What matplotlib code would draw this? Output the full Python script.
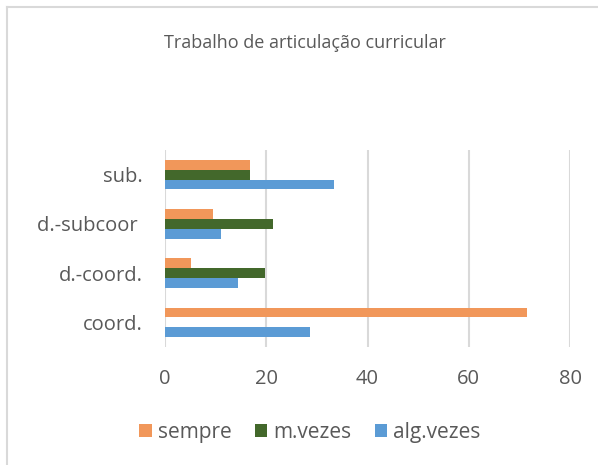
import matplotlib.pyplot as plt
from matplotlib.lines import Line2D
import numpy as np

plt.rcParams['font.family'] = ['Open Sans', 'DejaVu Sans']

categorias = ["coord.", "d.-coord.", "d.-subcoor ", "sub."]
sempre = [71.5, 5.1, 9.4, 16.7]
m_vezes = [0, 19.7, 21.4, 16.7]
alg_vezes = [28.6, 14.5, 11.0, 33.3]
xticks = [0, 20, 40, 60, 80]

cor_sempre = "#F1975A"
cor_m = "#43682B"
cor_alg = "#5B9BD5"
cinza_txt = "#595959"
cinza_grid = "#D9D9D9"


def gerar_grafico(fig):
    ax = fig.add_axes([165 / 598, 1 - 347 / 465, 405 / 598, 197 / 465])
    y = np.arange(len(categorias))
    h = 0.2
    ax.barh(y + h, sempre, height=h, color=cor_sempre, label="sempre", zorder=3)
    ax.barh(y, m_vezes, height=h, color=cor_m, label="m.vezes", zorder=3)
    ax.barh(y - h, alg_vezes, height=h, color=cor_alg, label="alg.vezes", zorder=3)

    ax.set_xlim(0, 80)
    ax.set_ylim(-0.5, len(categorias) - 0.5)
    ax.set_xticks(xticks)
    ax.set_yticks(y)
    ax.set_yticklabels(categorias)
    ax.tick_params(axis="both", length=0, labelsize=14.5, labelcolor=cinza_txt)
    ax.tick_params(axis="x", pad=16)
    ax.tick_params(axis="y", pad=16)
    for s in ax.spines.values():
        s.set_visible(False)
    ax.grid(axis="x", color=cinza_grid, linewidth=1.5, zorder=0)

    fig.text(305 / 598, 1 - 43 / 465, "Trabalho de articulação curricular",
             ha="center", va="center", fontsize=13, color=cinza_txt)

    fig.legend(loc="center", bbox_to_anchor=(310 / 598, 1 - 432 / 465), ncol=3,
               frameon=False, fontsize=15, labelcolor=cinza_txt,
               handlelength=0.6, handleheight=0.6, handletextpad=0.3,
               columnspacing=1.1)

    # moldura do gráfico
    fig.add_artist(Line2D([6.5 / 598, 6.5 / 598], [0, 1 - 7 / 465],
                          transform=fig.transFigure, color=cinza_grid, linewidth=1.5))
    fig.add_artist(Line2D([6.5 / 598, 1], [1 - 7 / 465, 1 - 7 / 465],
                          transform=fig.transFigure, color=cinza_grid, linewidth=1.5))


def main():
    fig = plt.figure(figsize=(5.98, 4.65), dpi=100)
    gerar_grafico(fig)
    fig.savefig("out.png", dpi=100, facecolor="white")


if __name__ == "__main__":
    main()
